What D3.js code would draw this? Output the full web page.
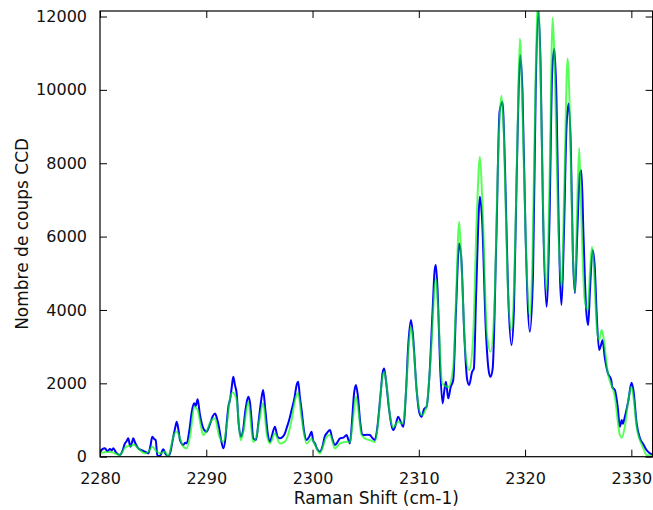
<!DOCTYPE html>
<html>
<head>
<meta charset="utf-8">
<script src="https://cdn.jsdelivr.net/npm/d3@7"></script>
<style>
  body { margin: 0; background: #fff; }
  text { font-family: "DejaVu Sans", sans-serif; fill: #111; }
</style>
</head>
<body>
<div class="chart"></div>
<script>
const blueShift = [2280.0,2280.2,2280.47,2280.7,2280.94,2281.1,2281.25,2281.5,2281.88,2282.1,2282.35,2282.5,2282.66,2282.8,2282.88,2283.0,2283.13,2283.3,2283.6,2283.9,2284.23,2284.54,2284.75,2284.92,2285.1,2285.24,2285.4,2285.64,2285.95,2286.2,2286.43,2286.6,2286.9,2287.1,2287.22,2287.4,2287.53,2287.84,2288.0,2288.16,2288.4,2288.65,2288.87,2289.0,2289.19,2289.4,2289.72,2289.9,2290.03,2290.3,2290.6,2290.82,2291.0,2291.19,2291.4,2291.6,2291.8,2291.92,2292.1,2292.23,2292.4,2292.54,2292.7,2292.86,2293.05,2293.24,2293.45,2293.7,2293.95,2294.1,2294.25,2294.42,2294.68,2294.9,2295.15,2295.35,2295.55,2295.8,2295.99,2296.2,2296.46,2296.7,2296.93,2297.15,2297.4,2297.55,2297.8,2298.03,2298.3,2298.5,2298.65,2298.8,2298.97,2299.2,2299.44,2299.7,2299.91,2300.05,2300.23,2300.45,2300.7,2300.95,2301.15,2301.33,2301.64,2301.85,2302.11,2302.35,2302.58,2302.9,2303.21,2303.35,2303.52,2303.7,2303.9,2304.08,2304.25,2304.5,2304.7,2304.93,2305.15,2305.4,2305.6,2305.87,2306.1,2306.4,2306.6,2306.74,2306.9,2307.2,2307.59,2307.8,2308.06,2308.3,2308.53,2308.8,2309.0,2309.26,2309.45,2309.8,2310.05,2310.26,2310.5,2310.73,2311.0,2311.3,2311.5,2311.61,2311.8,2312.0,2312.24,2312.4,2312.55,2312.77,2313.0,2313.24,2313.5,2313.8,2314.0,2314.3,2314.55,2314.74,2315.0,2315.18,2315.4,2315.75,2315.95,2316.3,2316.6,2316.75,2316.95,2317.3,2317.6,2317.87,2318.1,2318.4,2318.72,2318.95,2319.2,2319.55,2319.75,2320.05,2320.45,2320.75,2321.0,2321.25,2321.45,2321.7,2322.02,2322.3,2322.55,2322.75,2322.95,2323.15,2323.43,2323.65,2323.9,2324.1,2324.3,2324.5,2324.69,2324.9,2325.15,2325.3,2325.5,2325.75,2325.94,2326.1,2326.35,2326.55,2326.75,2326.97,2327.15,2327.29,2327.5,2327.79,2328.1,2328.2,2328.45,2328.7,2328.92,2329.1,2329.2,2329.39,2329.7,2330.02,2330.2,2330.5,2330.8,2331.1,2331.43,2331.7,2332.0];
const blueCounts = [120,200,230,150,210,170,230,120,46,150,363,420,500,330,272,380,500,380,227,180,136,90,300,545,480,454,30,20,200,60,0,100,545,820,954,700,454,317,380,363,700,1250,1454,1380,1563,1150,772,700,681,850,1100,1181,1050,818,450,227,500,900,1400,1545,1900,2180,1950,1727,900,545,700,1300,1635,1500,1050,500,455,900,1500,1817,1300,600,409,600,818,550,500,530,636,770,1000,1272,1600,1950,2044,1650,1272,700,455,550,681,450,360,200,136,300,550,636,727,500,318,400,500,520,590,480,363,900,1700,1954,1700,900,600,590,600,590,520,455,800,1700,2300,2407,2100,1300,727,850,1090,950,818,1800,3000,3725,3300,1800,1200,1090,1300,1362,2200,4000,5100,5224,4300,2500,1453,1800,2044,1590,1900,2090,4000,5815,5400,3200,2100,1954,2300,2407,4500,7085,6500,3500,2300,2180,2400,6000,9400,9674,8000,4500,3044,4000,7500,10946,10000,6000,3406,5000,10000,12150,10800,6500,4088,6500,10500,11129,9800,6500,4134,6000,9000,9630,8500,5500,4460,6000,7700,7800,6000,4000,3589,4500,5633,5200,3800,2906,3050,3180,2700,2279,2100,1900,1817,1400,818,1000,900,1090,1500,2017,1800,900,510,350,183,100,60];

const greenShift = [2280.0,2280.5,2281.0,2281.5,2281.88,2282.3,2282.66,2283.0,2283.13,2283.6,2284.23,2284.6,2284.92,2285.3,2285.64,2286.11,2286.43,2286.68,2286.9,2287.22,2287.53,2287.84,2288.16,2288.5,2288.87,2289.19,2289.45,2289.72,2290.03,2290.4,2290.82,2291.19,2291.6,2291.95,2292.23,2292.45,2292.6,2292.86,2293.24,2293.5,2293.95,2294.42,2294.68,2295.0,2295.35,2295.7,2295.99,2296.46,2296.93,2297.4,2297.8,2298.03,2298.4,2298.65,2298.97,2299.44,2299.91,2300.23,2300.7,2301.0,2301.33,2301.64,2302.11,2302.58,2303.21,2303.52,2303.8,2304.08,2304.3,2304.6,2304.93,2305.4,2305.87,2306.2,2306.5,2306.74,2306.95,2307.3,2307.59,2308.06,2308.53,2308.8,2309.05,2309.26,2309.5,2309.8,2310.26,2310.73,2311.1,2311.61,2311.85,2312.2,2312.77,2313.24,2313.5,2313.8,2314.05,2314.4,2314.74,2315.1,2315.45,2315.75,2316.0,2316.4,2316.75,2317.1,2317.45,2317.78,2318.0,2318.35,2318.72,2319.0,2319.3,2319.51,2319.75,2320.1,2320.45,2320.7,2321.0,2321.23,2321.45,2321.75,2322.02,2322.3,2322.6,2322.8,2323.1,2323.43,2323.7,2324.0,2324.2,2324.45,2324.69,2324.9,2325.09,2325.3,2325.6,2325.9,2326.1,2326.3,2326.5,2326.75,2326.97,2327.2,2327.35,2327.79,2328.45,2328.92,2329.1,2329.39,2329.7,2330.0,2330.25,2330.5,2330.8,2331.1,2331.43,2332.0];
const greenCounts = [80,130,130,80,46,228,290,300,340,227,91,150,272,150,90,136,0,272,545,681,500,272,227,600,1363,1272,900,590,700,950,1045,590,409,900,1590,1750,1727,1545,450,700,1500,400,510,1000,1454,600,360,630,360,410,700,1000,1600,1727,1050,360,490,320,91,300,545,590,228,360,410,400,1000,1635,1300,600,500,450,400,1000,2000,2316,2000,1100,800,950,900,1800,3000,3543,3000,1800,1135,1362,2600,4861,3800,2000,1900,2452,4300,6403,5000,2800,2362,3200,6500,8175,6800,3400,2861,4000,8000,9837,8800,4800,3453,5000,9000,11401,9500,5500,3800,5500,10500,12500,10500,6000,4543,7500,11963,10500,6500,4632,7500,10857,9500,6000,4496,6800,8412,6500,4300,3998,5000,5722,5000,3500,3180,3453,3300,2279,1635,591,520,818,1500,1908,1500,800,455,250,46,20];

const xTicks = [2280, 2290, 2300, 2310, 2320, 2330];
const yTicks = [0, 2000, 4000, 6000, 8000, 10000, 12000];

const margin = {top: 11, right: 0.4, bottom: 53.3, left: 100};
const fullWidth = 653, fullHeight = 510;
const width = fullWidth - margin.left - margin.right,
      height = fullHeight - margin.top - margin.bottom;

let svg = d3.select(".chart").append("svg")
    .attr("width", fullWidth)
    .attr("height", fullHeight)
  .append("g")
    .attr("transform", "translate(" + margin.left + "," + margin.top + ")");

const x = d3.scaleLinear().domain([2280, 2332]).range([0, width]);
const y = d3.scaleLinear().domain([0, 12150]).range([height, 0]);

svg.append("clipPath").attr("id", "plot-clip")
  .append("rect").attr("width", width).attr("height", height);

const line = d3.line()
    .x(d => x(d[0]))
    .y(d => y(d[1]))
    .curve(d3.curveMonotoneX);

const plot = svg.append("g").attr("clip-path", "url(#plot-clip)");

plot.append("path")
    .datum(d3.zip(blueShift, blueCounts))
    .attr("fill", "none")
    .attr("stroke", "#0000ff")
    .attr("stroke-width", 2)
    .attr("stroke-linejoin", "round")
    .attr("d", line);

plot.append("path")
    .datum(d3.zip(greenShift, greenCounts))
    .attr("fill", "none")
    .attr("stroke", "#00ff00")
    .attr("stroke-opacity", 0.65)
    .attr("stroke-width", 2)
    .attr("stroke-linejoin", "round")
    .attr("d", line);

// axes, ticks pointing inwards on all four sides
const tickLen = 7;
const fmt = d3.format("d");
const styleAxis = g => {
  g.select(".domain").remove();
  g.selectAll(".tick line").attr("stroke", "#000").attr("stroke-width", 1);
  g.selectAll(".tick text").style("font-size", "16px").attr("fill", "#111");
};

svg.append("g")
    .attr("transform", "translate(0," + height + ")")
    .call(d3.axisBottom(x).tickValues(xTicks).tickFormat(fmt).tickSizeInner(-tickLen).tickPadding(tickLen + 9))
    .call(styleAxis);

svg.append("g")
    .call(d3.axisTop(x).tickValues(xTicks).tickSizeInner(-tickLen).tickFormat(""))
    .call(styleAxis);

svg.append("g")
    .call(d3.axisLeft(y).tickValues(yTicks).tickFormat(fmt).tickSizeInner(-tickLen).tickPadding(tickLen + 6))
    .call(styleAxis);

svg.append("g")
    .attr("transform", "translate(" + width + ",0)")
    .call(d3.axisRight(y).tickValues(yTicks).tickSizeInner(-tickLen).tickFormat(""))
    .call(styleAxis);

svg.append("rect")
    .attr("width", width)
    .attr("height", height)
    .attr("fill", "none")
    .attr("stroke", "#000")
    .attr("stroke-width", 1.2);

// axis titles
svg.append("text")
    .attr("x", width / 2)
    .attr("y", height + 47)
    .attr("text-anchor", "middle")
    .style("font-size", "17px")
    .text("Raman Shift (cm-1)");

svg.append("text")
    .attr("transform", "translate(" + (28 - margin.left) + "," + (height / 2) + ") rotate(-90)")
    .attr("text-anchor", "middle")
    .style("font-size", "17px")
    .text("Nombre de coups CCD");
</script>
</body>
</html>
